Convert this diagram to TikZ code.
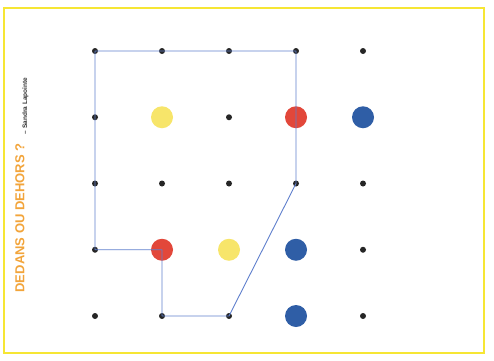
\documentclass[tikz,border=0pt]{standalone}
\usepackage{fontspec}
\setmainfont{Liberation Sans}
\usetikzlibrary{positioning}
\definecolor{frameyellow}{HTML}{F6E634}
\definecolor{dotyellow}{HTML}{F7E56A}
\definecolor{dotred}{HTML}{E2473A}
\definecolor{dotblue}{HTML}{2F5EA6}
\definecolor{titleorange}{HTML}{F2A43A}
\definecolor{pathblue}{HTML}{5F7FCC}
\tikzset{
  dot/.style={circle, fill=black!85, inner sep=0pt, minimum size=6pt},
  token/.style={circle, inner sep=0pt, minimum size=22pt},
  outline/.style={pathblue, line width=0.9pt, line join=round}
}
\begin{document}
\begin{tikzpicture}[x=1pt, y=1pt]
  \useasboundingbox (0,0) rectangle (494,360);
  % Frame
  \draw[frameyellow, line width=2.5pt] (4,7) rectangle (484,352);

  % Grid of dots
  \foreach \c in {0,...,4}
    \foreach \r in {0,...,4}
      \node[dot] (d\c\r) at (95+67*\c, 309-66.25*\r) {};

  % Coloured tokens
  \node[token, fill=dotyellow] (y1) at (d11) {};
  \node[token, fill=dotred]    (r1) at (d31) {};
  \node[token, fill=dotblue]   (b1) at (d41) {};
  \node[token, fill=dotred]    (r2) at (d13) {};
  \node[token, fill=dotyellow] (y2) at (d23) {};
  \node[token, fill=dotblue]   (b2) at (d33) {};
  \node[token, fill=dotblue]   (b3) at (d34) {};

  % Closed line
  \draw[outline] (d00.center) -- (d10.center) -- (d20.center) -- (d30.center)
    -- (r1.center) -- (d32.center) -- (d24.center) -- (d14.center)
    -- (r2.center) -- (d03.center) -- (d02.center) -- (d01.center) -- cycle;

  % Title
  \node[rotate=90, font=\fontsize{13}{13}\selectfont\bfseries, text=titleorange,
        inner sep=0pt] (title) at (20,142) {DEDANS OU DEHORS ?};
  \node[rotate=90, font=\fontsize{6.5}{6.5}\selectfont\bfseries, text=black!80,
        inner sep=0pt] (credit) at (25.5,254) {– Sandra Lapointe};
\end{tikzpicture}
\end{document}
